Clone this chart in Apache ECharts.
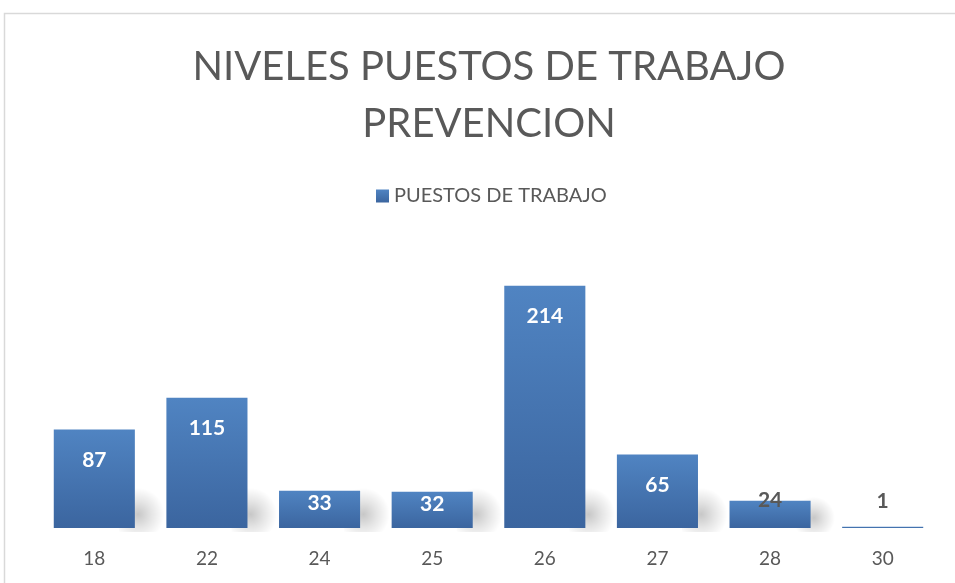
<!DOCTYPE html>
<html>
<head>
<meta charset="utf-8">
<script src="https://cdn.jsdelivr.net/npm/echarts@6/dist/echarts.min.js"></script>
<style>
  html, body { margin: 0; padding: 0; background: #fff; }
  #chart { width: 955px; height: 583px; }
</style>
</head>
<body>
<div id="chart"></div>
<script>
// datos del gráfico
const categories = ['18', '22', '24', '25', '26', '27', '28', '30'];
const puestos = [87, 115, 33, 32, 214, 65, 24, 1];
const seriesName = 'PUESTOS DE TRABAJO';
const titleText = 'NIVELES PUESTOS DE TRABAJO\nPREVENCION';

const fontFam = 'Lato, "Open Sans", sans-serif';
const grey = '#595959';

const barColor = new echarts.graphic.LinearGradient(0, 0, 0, 1, [
  { offset: 0, color: '#5084c2' },
  { offset: 1, color: '#3b659f' }
]);

// etiqueta según el tamaño de la barra (dentro arriba, o fuera si no cabe)
const labelFor = (v) => {
  if (v >= 60) return { position: 'insideTop', distance: 20, color: '#fff' };
  if (v >= 30) return { position: 'insideTop', distance: 2, color: '#fff' };
  if (v >= 10) return { position: 'top', distance: -10, color: grey };
  return { position: 'top', distance: 15, color: grey };
};

const barData = puestos.map(v => ({ value: v, label: labelFor(v) }));

const chart = echarts.init(document.getElementById('chart'));
chart.setOption({
  animation: false,
  title: {
    text: titleText,
    left: 484,
    textAlign: 'center',
    top: 34,
    textStyle: {
      fontFamily: fontFam,
      fontSize: 40,
      fontWeight: 'normal',
      color: grey,
      lineHeight: 57
    }
  },
  legend: {
    top: 181,
    left: 371,
    itemWidth: 13,
    itemHeight: 13,
    itemGap: 8,
    icon: 'rect',
    data: [seriesName],
    textStyle: { fontFamily: fontFam, fontSize: 20, color: grey }
  },
  graphic: [{
    type: 'rect',
    shape: { x: 4.5, y: 13.5, width: 1000, height: 600 },
    style: { fill: 'none', stroke: '#d9d9d9', lineWidth: 1.5 },
    silent: true
  }],
  grid: { left: 38, right: 16, top: 245, bottom: 55 },
  xAxis: {
    type: 'category',
    data: categories,
    axisLine: { show: false },
    axisTick: { show: false },
    axisLabel: { fontFamily: fontFam, fontSize: 19, color: grey, margin: 21 }
  },
  yAxis: {
    type: 'value',
    min: 0,
    max: 250,
    show: false,
    splitLine: { show: false }
  },
  series: [
    {
      // sombra difuminada detrás de cada barra
      type: 'custom',
      silent: true,
      z: 1,
      data: puestos.map((v, i) => [i, v]),
      renderItem: (params, api) => {
        const base = api.coord([api.value(0), 0]);
        const top = api.coord([api.value(0), api.value(1)]);
        const band = api.size([1, 0])[0];
        const bw = band * 0.72;
        const h = Math.min(base[1] - top[1], 36);
        if (h < 5) return null;
        const x0 = base[0] + bw / 2 - 16;
        return {
          type: 'rect',
          shape: { x: x0, y: base[1] - h - 4, width: 64, height: h + 8 },
          style: {
            fill: new echarts.graphic.RadialGradient(0.3, 0.6, 0.6, [
              { offset: 0, color: 'rgba(0,0,0,0.22)' },
              { offset: 0.5, color: 'rgba(0,0,0,0.1)' },
              { offset: 1, color: 'rgba(0,0,0,0)' }
            ])
          }
        };
      }
    },
    {
      name: seriesName,
      type: 'bar',
      z: 2,
      barCategoryGap: '28%',
      data: barData,
      itemStyle: { color: barColor },
      label: {
        show: true,
        fontFamily: fontFam,
        fontSize: 21,
        fontWeight: 'bold'
      }
    }
  ]
});
</script>
</body>
</html>
